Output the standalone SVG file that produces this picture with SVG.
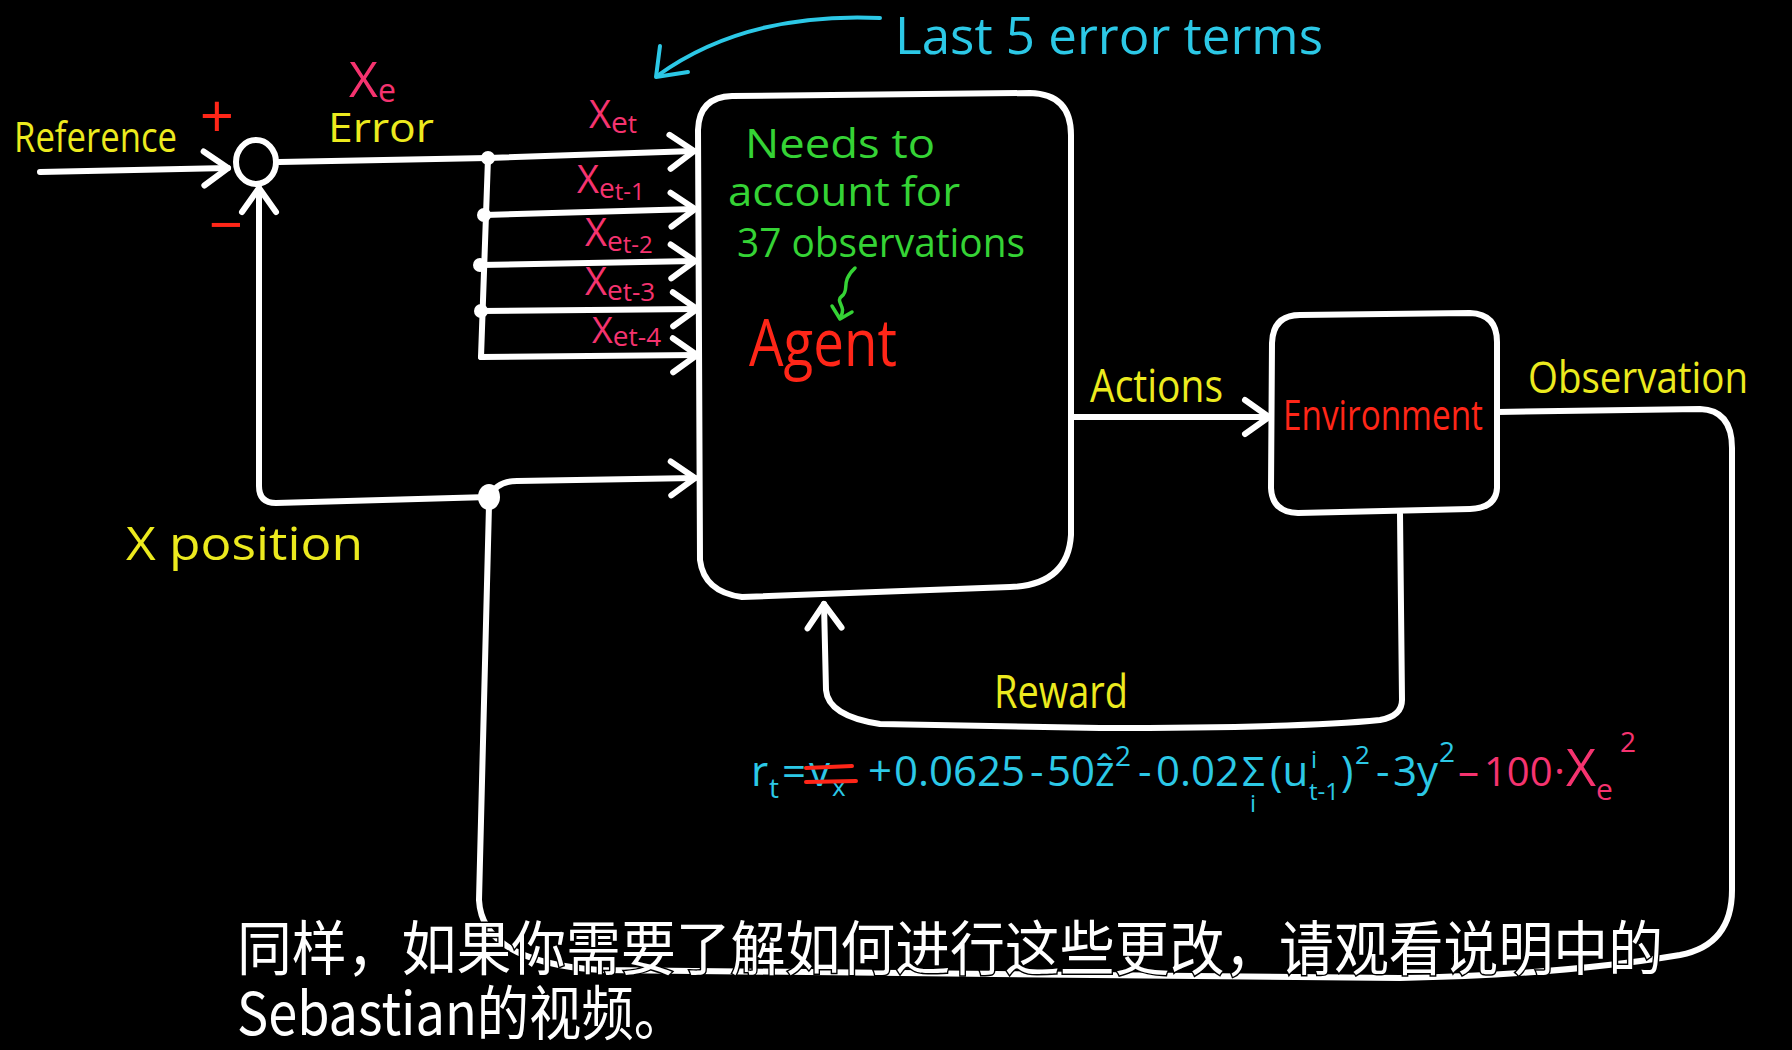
<svg xmlns="http://www.w3.org/2000/svg" width="1792" height="1050" viewBox="0 0 1792 1050">
<defs>
<style>
.ln{fill:none;stroke:#fff;stroke-width:6;stroke-linecap:round;stroke-linejoin:round}
.box{fill:#000;stroke:#fff;stroke-width:6;stroke-linejoin:round}
.dot{fill:#fff;stroke:none}
text{font-family:"Open Sans","Liberation Sans",sans-serif}
.y{fill:#ecea1e}
.pk{fill:#f5336f}
.rd{fill:#ff2618}
.gr{fill:#35d335}
.cy{fill:#2cc8e6}
.cyl{fill:none;stroke:#2cc8e6;stroke-width:4;stroke-linecap:round;stroke-linejoin:round}
.grl{fill:none;stroke:#35d335;stroke-width:3.5;stroke-linecap:round;stroke-linejoin:round}
.rdl{fill:none;stroke:#ff2618;stroke-width:4;stroke-linecap:round}
.sub{font-family:"Noto Sans CJK SC","Noto Sans",sans-serif;fill:#fff;stroke:#000;stroke-width:3;paint-order:stroke;font-size:59px}
</style>
<marker id="arr" viewBox="-30 -22 36 44" refX="0" refY="0" markerWidth="36" markerHeight="44" markerUnits="userSpaceOnUse" orient="auto" overflow="visible">
<path d="M-24,-17 L0,0 L-24,17" fill="none" stroke="#fff" stroke-width="6" stroke-linecap="round" stroke-linejoin="round"/>
</marker>
</defs>
<rect x="0" y="0" width="1792" height="1050" fill="#000"/>

<g id="connectors">
<path class="ln" d="M40,172 L228,168" marker-end="url(#arr)"/>
<path class="ln" d="M279,162 L488,158 L694,151" marker-end="url(#arr)"/>
<path class="ln" d="M488,158 L481,357"/>
<path class="ln" d="M485,215 L695,209" marker-end="url(#arr)"/>
<path class="ln" d="M480,265 L695,261" marker-end="url(#arr)"/>
<path class="ln" d="M481,311 L697,309" marker-end="url(#arr)"/>
<path class="ln" d="M481,357 L697,355" marker-end="url(#arr)"/>
<path class="ln" d="M489,497 L276,503 Q259,503 259,486 L259,188" marker-end="url(#arr)"/>
<path class="ln" d="M489,497 Q497,481 517,481 L695,478" marker-end="url(#arr)"/>
<path class="ln" d="M1071,417 L1269,417" marker-end="url(#arr)"/>
<path class="ln" d="M1497,412 L1700,409 Q1732,410 1732,448 L1732,890 Q1732,945 1680,955 Q1560,975 1400,978 L600,970 Q482,962 479,900 L489,505"/>
<path class="ln" d="M1400,514 L1402,700 Q1402,716 1380,720 Q1300,728 1100,728 L880,724 Q828,716 826,690 L824,604" marker-end="url(#arr)"/>
<circle class="dot" cx="488" cy="158" r="7"/>
<circle class="dot" cx="484" cy="215" r="7"/>
<circle class="dot" cx="480" cy="265" r="7"/>
<circle class="dot" cx="481" cy="311" r="7"/>
<ellipse class="dot" cx="489" cy="497" rx="11" ry="13"/>
</g>

<g id="summing-junction">
<ellipse class="ln" cx="256" cy="162" rx="20" ry="22"/>
<text class="rd" x="217" y="138" font-size="60" text-anchor="middle">+</text>
<text class="rd" x="226" y="246" font-size="60" text-anchor="middle">−</text>
</g>

<g id="reference-label">
<text class="y" x="14" y="152" font-size="42" textLength="163" lengthAdjust="spacingAndGlyphs">Reference</text>
</g>

<g id="error-label">
<text class="pk" x="349" y="97" font-size="50">X<tspan font-size="32" dy="5">e</tspan></text>
<text class="y" x="328" y="142" font-size="40" textLength="106" lengthAdjust="spacingAndGlyphs">Error</text>
</g>

<g id="error-term-labels">
<text class="pk" x="589" y="128" font-size="38">X<tspan font-size="30" dy="5">e</tspan><tspan font-size="26">t</tspan></text>
<text class="pk" x="577" y="193" font-size="38">X<tspan font-size="28" dy="5">e</tspan><tspan font-size="24" dy="2">t-1</tspan></text>
<text class="pk" x="585" y="246" font-size="38">X<tspan font-size="28" dy="5">e</tspan><tspan font-size="24" dy="2">t-2</tspan></text>
<text class="pk" x="585" y="295" font-size="38">X<tspan font-size="28" dy="5">e</tspan><tspan font-size="26" dy="1">t-3</tspan></text>
<text class="pk" x="592" y="343" font-size="36">X<tspan font-size="28" dy="3">e</tspan><tspan font-size="26">t-4</tspan></text>
</g>

<g id="last5-note">
<path class="cyl" d="M880,18 Q745,12 657,76"/>
<path class="cyl" d="M660,46 L656,77 L688,72"/>
<text class="cy" x="895" y="54" font-size="52" textLength="428" lengthAdjust="spacingAndGlyphs">Last 5 error terms</text>
</g>

<g id="agent">
<path class="box" d="M732,96 L1030,93 Q1071,94 1071,135 L1071,535 Q1068,585 1010,587 L742,597 Q704,592 700,560 L698,130 Q699,97 732,96 Z"/>
<text class="gr" x="745" y="158" font-size="40" textLength="190" lengthAdjust="spacingAndGlyphs">Needs to</text>
<text class="gr" x="728" y="206" font-size="40" textLength="232" lengthAdjust="spacingAndGlyphs">account for</text>
<text class="gr" x="737" y="257" font-size="40" textLength="288" lengthAdjust="spacingAndGlyphs">37 observations</text>
<path class="grl" d="M855,268 C840,282 850,290 842,296 C834,302 848,306 840,318"/>
<path class="grl" d="M832,306 L840,319 L852,312"/>
<text class="rd" x="749" y="366" font-size="66" textLength="148" lengthAdjust="spacingAndGlyphs">Agent</text>
</g>

<g id="environment">
<path class="box" d="M1300,315 L1470,313 Q1497,314 1497,342 L1497,488 Q1496,508 1470,509 L1298,513 Q1272,512 1271,488 L1272,343 Q1273,315 1300,315 Z"/>
<text class="rd" x="1283" y="430" font-size="42" textLength="200" lengthAdjust="spacingAndGlyphs">Environment</text>
</g>

<g id="signal-labels">
<text class="y" x="1090" y="402" font-size="46" textLength="133" lengthAdjust="spacingAndGlyphs">Actions</text>
<text class="y" x="1528" y="393" font-size="44" textLength="220" lengthAdjust="spacingAndGlyphs">Observation</text>
<text class="y" x="994" y="708" font-size="46" textLength="134" lengthAdjust="spacingAndGlyphs">Reward</text>
<text class="y" x="126" y="560" font-size="46" textLength="237" lengthAdjust="spacingAndGlyphs">X position</text>
</g>

<g id="reward-equation">
<text class="cy" font-size="42"><tspan x="751" y="786">r</tspan><tspan x="769" y="798" font-size="28">t</tspan><tspan x="782" y="786">=</tspan><tspan x="809" y="786">v</tspan><tspan x="832" y="796" font-size="26">x</tspan><tspan x="868" y="786">+</tspan><tspan x="894" y="786">0.0625</tspan><tspan x="1030" y="786">-</tspan><tspan x="1047" y="786">50</tspan><tspan x="1095" y="786">ẑ</tspan><tspan x="1115" y="766" font-size="28">2</tspan><tspan x="1138" y="786">-</tspan><tspan x="1156" y="786">0.02</tspan><tspan x="1242" y="786" font-size="40">Σ</tspan><tspan x="1250" y="812" font-size="24">i</tspan><tspan x="1270" y="786">(u</tspan><tspan x="1311" y="768" font-size="24">i</tspan><tspan x="1309" y="800" font-size="24">t-1</tspan><tspan x="1341" y="786">)</tspan><tspan x="1355" y="764" font-size="26">2</tspan><tspan x="1376" y="786">-</tspan><tspan x="1393" y="786">3y</tspan><tspan x="1439" y="762" font-size="28">2</tspan><tspan class="pk" x="1458" y="786">–</tspan><tspan class="pk" x="1484" y="786" font-size="40">100</tspan><tspan class="pk" x="1554" y="786">·</tspan><tspan class="pk" x="1566" y="786" font-size="52">X</tspan><tspan class="pk" x="1596" y="800" font-size="30">e</tspan><tspan class="pk" x="1620" y="752" font-size="28">2</tspan></text>
<path class="rdl" d="M806,768 L852,766 M806,782 L856,781"/>
</g>

<g id="subtitle">
<text class="sub" x="237" y="970" textLength="1426" lengthAdjust="spacingAndGlyphs">同样，如果你需要了解如何进行这些更改，请观看说明中的</text>
<text class="sub" x="237" y="1035" textLength="449" lengthAdjust="spacingAndGlyphs">Sebastian的视频。</text>
</g>
</svg>
